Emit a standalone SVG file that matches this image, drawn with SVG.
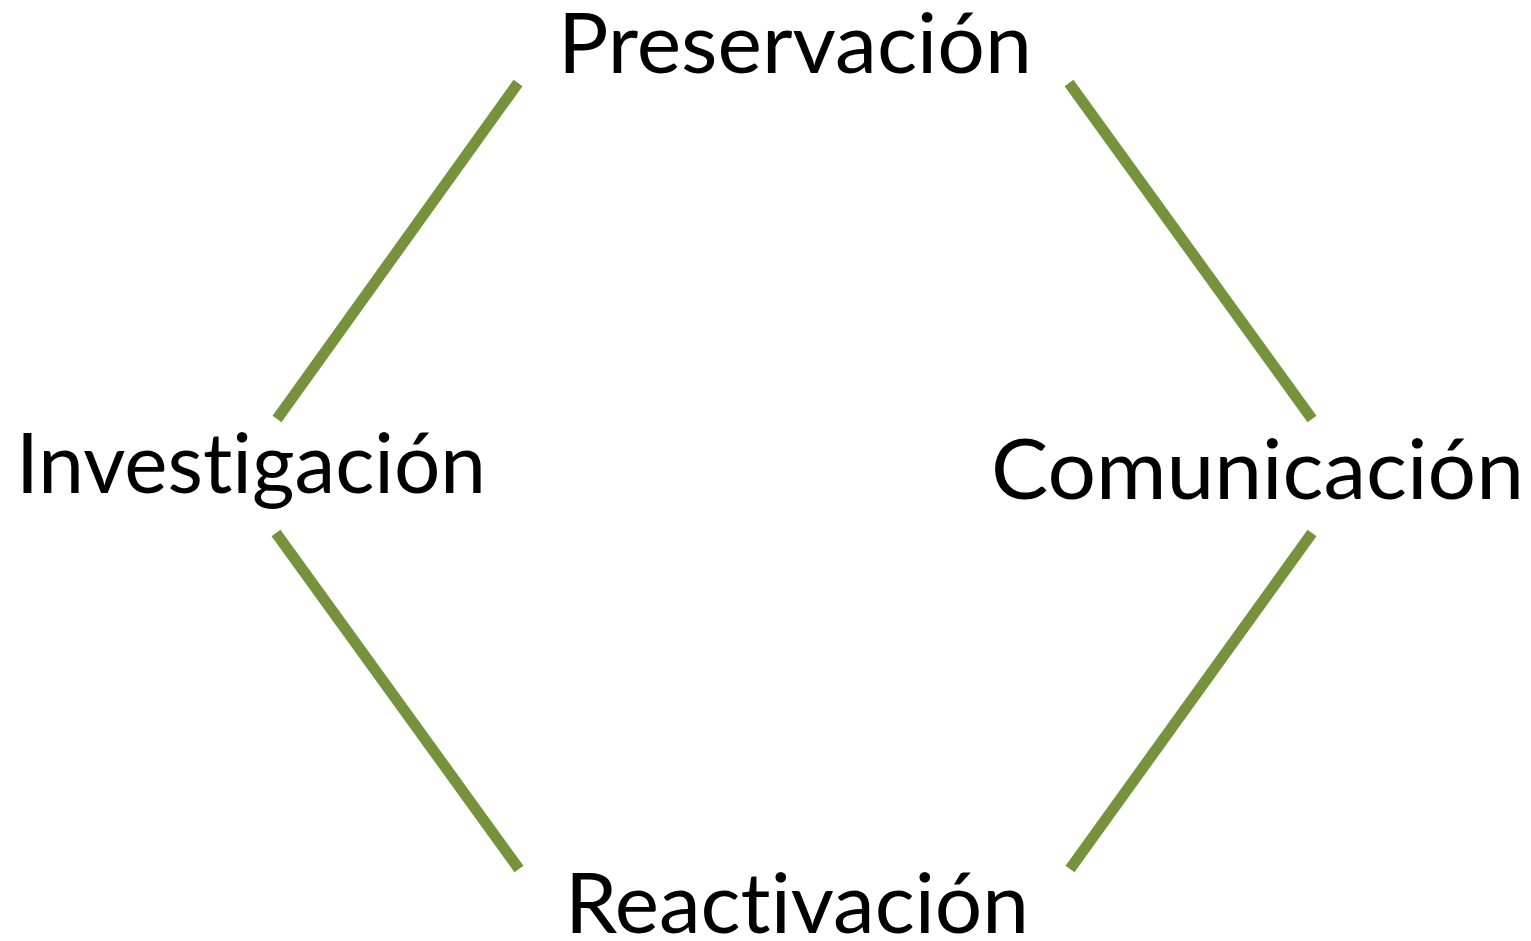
<svg xmlns="http://www.w3.org/2000/svg" width="1531" height="941" viewBox="0 0 1531 941">
<style>
.lbl{font-family:Lato,"Open Sans","Liberation Sans",sans-serif;font-size:84px;fill:#000;font-variant-ligatures:none;font-feature-settings:"liga" 0,"clig" 0;}
.edge{stroke:#76923C;stroke-width:11;stroke-linecap:butt;fill:none;}
</style>
<rect width="1531" height="941" fill="#fff"/>
<g id="connectors">
<line class="edge" x1="518" y1="83" x2="277" y2="419"/>
<line class="edge" x1="1069" y1="83" x2="1312" y2="419"/>
<line class="edge" x1="276" y1="533" x2="519" y2="869"/>
<line class="edge" x1="1312" y1="533" x2="1070" y2="869"/>
</g>
<g id="preservacion"><text class="lbl" x="558" y="73" textLength="474" lengthAdjust="spacingAndGlyphs">Preservación</text></g>
<g id="investigacion"><text class="lbl" x="16" y="493" textLength="470" lengthAdjust="spacingAndGlyphs">Investigación</text></g>
<g id="comunicacion"><text class="lbl" x="991" y="499" textLength="533" lengthAdjust="spacingAndGlyphs">Comunicación</text></g>
<g id="reactivacion"><text class="lbl" x="565" y="933" textLength="464" lengthAdjust="spacingAndGlyphs">Reactivación</text></g>
</svg>
